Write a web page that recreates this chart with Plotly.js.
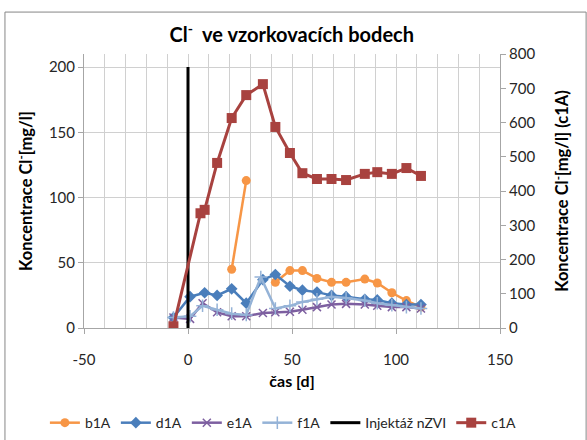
<!DOCTYPE html>
<html>
<head>
<meta charset="utf-8">
<script src="https://cdn.plot.ly/plotly-3.0.1.min.js"></script>
<style>
  html, body { margin: 0; padding: 0; background: #fff; }
  #chart { width: 587px; height: 440px; }
</style>
</head>
<body>
<div id="chart"></div>
<script>
// Sampling days and chloride concentrations [mg/l]
const daysB1A = [21, 28, 35, 42, 49, 55, 62, 69, 76, 85, 91, 98, 105, 112];
const b1A     = [45, 113, null, 35, 44, 44, 38, 35, 35, 37.5, 34.5, 27, 21, 16];

const daysD1A = [-7, 1, 8, 14, 21, 28, 36, 42, 49, 55, 62, 69, 76, 85, 91, 98, 105, 112];
const d1A     = [8, 24, 27, 25, 30, 19, 37, 41, 32, 29, 27.5, 25, 24, 22, 21.5, 19, 18, 18];

const daysE1A = [-7, 1, 7, 14, 21, 28, 36, 42, 49, 55, 62, 69, 76, 85, 91, 98, 105, 112];
const e1A     = [8, 7, 19, 12, 9, 9, 11.5, 12, 12.5, 14, 16, 18, 18.5, 18, 17, 16, 16, 15];

const daysF1A = [-7, 1, 7, 14, 21, 28, 35, 42, 49, 55, 62, 69, 76, 85, 91, 98, 105, 112];
const f1A     = [8, 9, 17, 14, 11, 10, 39, 15, 17, 20, 22, 24, 23, 21, 19, 17.5, 16, 15];

const daysC1A = [-7, 6, 8, 14, 21, 28, 36, 42, 49, 55, 62, 69, 76, 85, 91, 98, 105, 112];
const c1A     = [5, 335, 345, 482, 613, 680, 712, 587, 511, 452, 435, 435, 432, 450, 455, 450, 467, 444];

// nZVI injection marker (day 0)
const injDays = [0, 0];
const injConc = [0, 200];

// Time axis tick labels (plain hyphen for negatives)
const xTickVals = [-50, 0, 50, 100, 150];
const xTickText = ['-50', '0', '50', '100', '150'];

const FONT = 'Lato, "Noto Sans", sans-serif';
const TICKFONT = { family: FONT, size: 15, color: '#262626' };

const traces = [
  { x: daysB1A, y: b1A, name: 'b1A', type: 'scatter', mode: 'lines+markers',
    line: { color: '#F79646', width: 2.5 },
    marker: { symbol: 'circle', size: 9, color: '#F79646' } },
  { x: daysD1A, y: d1A, name: 'd1A', type: 'scatter', mode: 'lines+markers',
    line: { color: '#4A7EBB', width: 2.5 },
    marker: { symbol: 'diamond', size: 9, color: '#4A7EBB' } },
  { x: daysE1A, y: e1A, name: 'e1A', type: 'scatter', mode: 'lines+markers',
    line: { color: '#7D5FA0', width: 2.5 },
    marker: { symbol: 'x-thin-open', size: 8, color: '#7D5FA0', line: { width: 1.5, color: '#7D5FA0' } } },
  { x: daysF1A, y: f1A, name: 'f1A', type: 'scatter', mode: 'lines+markers',
    line: { color: '#95B3D7', width: 2.5 },
    marker: { symbol: 'cross-thin-open', size: 9, color: '#95B3D7', line: { width: 1.5, color: '#95B3D7' } } },
  { x: injDays, y: injConc, name: 'Injektáž nZVI', type: 'scatter', mode: 'lines',
    line: { color: '#000000', width: 3 } },
  { x: daysC1A, y: c1A, name: 'c1A', type: 'scatter', mode: 'lines+markers', yaxis: 'y2',
    line: { color: '#A8423F', width: 3 },
    marker: { symbol: 'square', size: 10, color: '#A8423F' } }
];

const layout = {
  width: 587, height: 440,
  margin: { l: 84, r: 87, t: 54, b: 112, autoexpand: false },
  paper_bgcolor: '#ffffff', plot_bgcolor: '#ffffff',
  font: { family: FONT, size: 14, color: '#262626' },
  showlegend: true,
  title: {
    text: '<b>Cl<sup>-</sup>  ve vzorkovacích bodech</b>',
    font: { family: FONT, size: 20, color: '#000' },
    x: 0.497, xanchor: 'center', y: 0.92, yanchor: 'middle'
  },
  xaxis: {
    range: [-50, 150], tickvals: xTickVals, ticktext: xTickText, automargin: false,
    showgrid: true, gridcolor: '#D0D0D0', gridwidth: 1,
    minor: { dtick: 10, tick0: 0, showgrid: true, gridcolor: '#D0D0D0', gridwidth: 1 },
    zeroline: false, showline: true, linecolor: '#A6A6A6', linewidth: 1,
    ticks: 'outside', ticklen: 5, tickcolor: '#A6A6A6', ticklabelstandoff: 13,
    tickfont: TICKFONT,
    title: { text: '<b>čas [d]</b>', font: { family: FONT, size: 16, color: '#000' }, standoff: 8 }
  },
  yaxis: {
    range: [0, 210], tickvals: [0, 50, 100, 150, 200], automargin: false,
    showgrid: true, gridcolor: '#D0D0D0', gridwidth: 1,
    zeroline: false, showline: true, linecolor: '#A6A6A6', linewidth: 1,
    ticks: 'outside', ticklen: 5, tickcolor: '#A6A6A6',
    tickfont: TICKFONT,
    title: { text: '<b>Koncentrace Cl<sup>-</sup>[mg/l]</b>', font: { family: FONT, size: 16.5, color: '#000' }, standoff: 12 }
  },
  yaxis2: {
    range: [0, 800], dtick: 100, overlaying: 'y', side: 'right', automargin: false,
    showgrid: false, zeroline: false, showline: true, linecolor: '#A6A6A6', linewidth: 1,
    ticks: 'outside', ticklen: 5, tickcolor: '#A6A6A6',
    tickfont: TICKFONT,
    title: { text: '<b>Koncentrace Cl<sup>-</sup>[mg/l] (c1A)</b>', font: { family: FONT, size: 16.5, color: '#000' }, standoff: 22 }
  },
  legend: {
    orientation: 'h', xref: 'paper', yref: 'paper',
    x: -0.094, xanchor: 'left', y: -0.347, yanchor: 'middle',
    font: { family: FONT, size: 14, color: '#262626' },
    itemwidth: 30, tracegroupgap: 0, bgcolor: 'rgba(0,0,0,0)'
  },
  shapes: [
    { type: 'rect', xref: 'paper', yref: 'paper',
      x0: -0.19, x1: 1.207, y0: -0.45, y1: 1.153,
      line: { color: '#868686', width: 1 }, fillcolor: 'rgba(0,0,0,0)', layer: 'below' }
  ]
};

Plotly.newPlot('chart', traces, layout, { displayModeBar: false, staticPlot: true });
</script>
</body>
</html>
